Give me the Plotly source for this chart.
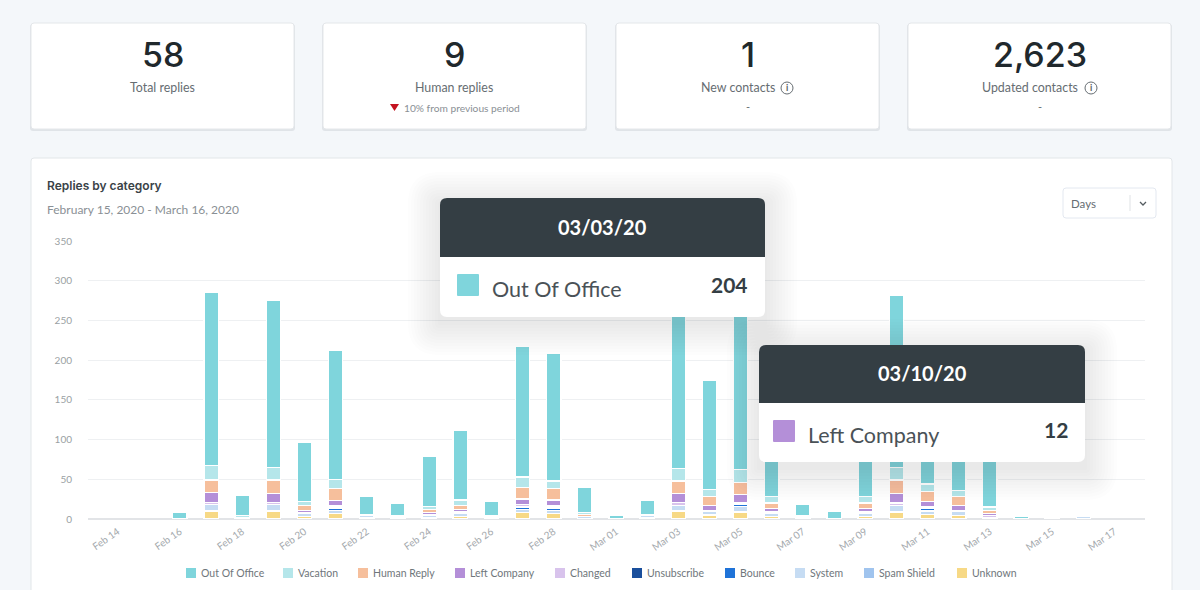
import plotly.graph_objects as go

W = 1200
H = 590

days = ["Feb 14", "Feb 15", "Feb 16", "Feb 17", "Feb 18", "Feb 19", "Feb 20", "Feb 21", "Feb 22", "Feb 23", "Feb 24",
        "Feb 25", "Feb 26", "Feb 27", "Feb 28", "Feb 29", "Mar 01", "Mar 02", "Mar 03", "Mar 04", "Mar 05", "Mar 06",
        "Mar 07", "Mar 08", "Mar 09", "Mar 10", "Mar 11", "Mar 12", "Mar 13", "Mar 14", "Mar 15", "Mar 16", "Mar 17"]
tick_days = days[::2]
y_ticks = [0, 50, 100, 150, 200, 250, 300, 350]

out_of_office = [0, 0, 9, 218, 26, 210, 75, 162, 24, 16, 63, 87, 18, 164, 160, 32, 4, 19, 204, 137, 210, 87, 14, 10, 97, 216, 99, 89, 94, 3, 1, 0, 0]
vacation = [0, 0, 0, 18, 2, 16, 5, 12, 1, 1, 4, 7, 1, 13, 10, 2, 0, 1, 16, 9, 16, 8, 1, 0, 8, 16, 9, 8, 4, 0, 1, 0, 0]
human_reply = [0, 0, 0, 16, 0, 17, 6, 15, 0, 0, 4, 5, 0, 15, 14, 3, 0, 0, 16, 11, 15, 7, 0, 0, 7, 17, 13, 11, 4, 0, 0, 1, 0]
left_company = [0, 0, 0, 12, 0, 11, 3, 6, 0, 0, 3, 3, 0, 7, 7, 0, 0, 0, 11, 6, 11, 4, 0, 0, 4, 12, 6, 6, 3, 0, 0, 0, 0]
changed = [0, 0, 0, 3, 0, 3, 1, 2, 0, 0, 1, 2, 0, 2, 2, 0, 0, 0, 4, 1, 0, 2, 0, 0, 2, 3, 2, 1, 2, 0, 0, 0, 0]
unsubscribe = [0, 0, 0, 0, 0, 0, 0, 1, 0, 0, 0, 0, 0, 1, 1, 0, 0, 0, 0, 0, 1, 0, 0, 0, 0, 0, 1, 0, 0, 0, 0, 0, 0]
bounce = [0, 0, 0, 0, 0, 0, 0, 3, 0, 0, 0, 0, 0, 3, 3, 0, 0, 0, 0, 0, 3, 0, 0, 0, 0, 0, 3, 0, 0, 0, 0, 0, 0]
system = [0, 0, 0, 8, 1, 8, 4, 4, 2, 1, 2, 4, 1, 4, 4, 2, 0, 2, 7, 5, 7, 4, 1, 0, 4, 8, 4, 6, 0, 0, 0, 3, 0]
spam_shield = [0] * 33
unknown = [0, 0, 0, 10, 1, 10, 3, 7, 2, 2, 2, 3, 2, 8, 7, 1, 1, 2, 10, 5, 9, 3, 2, 0, 3, 9, 6, 4, 2, 0, 0, 0, 0]

# bottom of the stack goes first
series = [
    ("Unknown", unknown, "#f7d986"),
    ("Spam Shield", spam_shield, "#a0c4ee"),
    ("System", system, "#c6dcf3"),
    ("Bounce", bounce, "#1f73d8"),
    ("Unsubscribe", unsubscribe, "#1a4f9c"),
    ("Changed", changed, "#d8c3ec"),
    ("Left Company", left_company, "#b48fd8"),
    ("Human Reply", human_reply, "#f6bf9c"),
    ("Vacation", vacation, "#b5e6ea"),
    ("Out Of Office", out_of_office, "#7fd5dc"),
]

stat_cards = [
    (31, 294, "58", "Total replies", "", None),
    (323, 586, "9", "Human replies", "10% from previous period", None),
    (616, 879, "1", "New contacts", "-", 787),
    (908, 1171, "2,623", "Updated contacts", "-", 1091),
]

# left edge of each legend swatch, same order as series
legend_x = {"Out Of Office": 186, "Vacation": 283, "Human Reply": 358, "Left Company": 455, "Changed": 555,
            "Unsubscribe": 632, "Bounce": 725, "System": 795, "Spam Shield": 864, "Unknown": 957}


def px(x):
    return x / W


def py(y):
    return 1 - y / H


def round_rect(x0, y0, x1, y1, r, fill, layer="below", line=None, opacity=1, top_only=False):
    rb = 0 if top_only else r
    X0, X1 = px(x0), px(x1)
    Y0, Y1 = py(y0), py(y1)
    path = (
        f"M {px(x0 + r)} {Y0} L {px(x1 - r)} {Y0} Q {X1} {Y0} {X1} {py(y0 + r)} "
        f"L {X1} {py(y1 - rb)} Q {X1} {Y1} {px(x1 - rb)} {Y1} "
        f"L {px(x0 + rb)} {Y1} Q {X0} {Y1} {X0} {py(y1 - rb)} "
        f"L {X0} {py(y0 + r)} Q {X0} {Y0} {px(x0 + r)} {Y0} Z"
    )
    return dict(type="path", path=path, xref="paper", yref="paper", fillcolor=fill, layer=layer, opacity=opacity,
                line=dict(color=line or fill, width=1 if line else 0))


def text(x, y, s, size, color, anchor="center", font="Lato", bold=False, weight=None):
    f = dict(family=font, size=size, color=color)
    if weight:
        f["weight"] = weight
    # annotations carry 2px of padding on the anchored side
    shift = {"left": -2, "right": 2, "center": 0}[anchor]
    return dict(x=px(x + shift), y=py(y), xref="paper", yref="paper", text=f"<b>{s}</b>" if bold else s,
                showarrow=False, xanchor=anchor, yanchor="middle", font=f)


fig = go.Figure()
for name, values, color in series:
    fig.add_trace(go.Bar(x=days, y=[v or None for v in values], name=name, width=0.46,
                         marker=dict(color=color, line=dict(color="white", width=1.3))))

shapes = []
notes = []

# stat cards along the top
for x0, x1, number, label, sub, icon_x in stat_cards:
    shapes.append(round_rect(x0 - 1, 24, x1 + 1, 131, 3, "#c3c8cc", opacity=0.4))
    shapes.append(round_rect(x0, 23, x1, 129, 3, "white", line="#e4e7ea"))
    mid = (x0 + x1) / 2
    notes.append(text(mid, 54, number, 34, "#20282c", font="Inter", weight=500))
    if icon_x:
        notes.append(text(icon_x - (49 if number == "1" else 61), 88, label, 12.4, "#666d72"))
        shapes.append(dict(type="circle", xref="paper", yref="paper", x0=px(icon_x - 6), x1=px(icon_x + 6),
                           y0=py(94), y1=py(82), line=dict(color="#666d72", width=1), fillcolor="white"))
        notes.append(text(icon_x, 88, "i", 9, "#555c61", bold=True))
        notes.append(text(mid, 106, sub, 11, "#666d72"))
    else:
        notes.append(text(mid, 88, label, 12.4, "#666d72"))
        if sub:
            notes.append(text(mid + 7, 108, sub, 10.2, "#8a9095"))
            shapes.append(dict(type="path", xref="paper", yref="paper", fillcolor="#c4121f", line=dict(width=0),
                               path=f"M {px(390)} {py(104)} L {px(399)} {py(104)} L {px(394.5)} {py(111)} Z"))

# chart panel
shapes.append(round_rect(31, 158, 1172, 600, 3, "white", line="#e2e6e9"))
notes.append(text(47, 185, "Replies by category", 12, "#3a4247", anchor="left", font="Inter", weight=600))
notes.append(text(47, 210, "February 15, 2020 - March 16, 2020", 12, "#8a9095", anchor="left"))

# days dropdown
shapes.append(round_rect(1063, 188, 1156, 218, 3, "white", line="#e3e8f0"))
shapes.append(dict(type="line", xref="paper", yref="paper", x0=px(1130), x1=px(1130), y0=py(195), y1=py(211),
                   line=dict(color="#dfe2e5", width=1)))
shapes.append(dict(type="path", xref="paper", yref="paper", line=dict(color="#555c61", width=1.3),
                   path=f"M {px(1140)} {py(202)} L {px(1143)} {py(205)} L {px(1146)} {py(202)}"))
notes.append(text(1071, 203, "Days", 11.5, "#666d72", anchor="left"))

# legend row under the chart
colors = {name: color for name, _, color in series}
for name, x in legend_x.items():
    shapes.append(round_rect(x, 568, x + 10, 578, 0, colors[name]))
    notes.append(text(x + 15, 573, name, 10.5, "#6f767b", anchor="left"))


def tooltip(x0, x1, y0, y1, head, title, swatch_x, swatch, label, value):
    # soft shadow from stacked translucent boxes
    for grow in range(32, 0, -3):
        shapes.append(round_rect(x0 - grow, y0 - grow + 6, x1 + grow, y1 + grow + 6, grow, "#70787d", layer="above",
                                 opacity=0.012))
    shapes.append(round_rect(x0, y0, x1, y1, 7, "white", layer="above"))
    shapes.append(round_rect(x0, y0, x1, head, 7, "#343e44", layer="above", top_only=True))
    shapes.append(round_rect(swatch_x, head + 17, swatch_x + 22, head + 39, 1, swatch, layer="above"))
    notes.append(text((x0 + x1) / 2, (y0 + head) / 2 - 1, title, 20, "white", bold=True))
    notes.append(text(swatch_x + 35, head + 32, label, 21.5, "#4a5257", anchor="left"))
    notes.append(text(x1 - 17, head + 27, value, 21, "#343e44", anchor="right", bold=True))


tooltip(440, 765, 198, 317, 257, "03/03/20", 457, "#7fd5dc", "Out Of Office", "204")
tooltip(759, 1085, 345, 462, 403, "03/10/20", 773, "#b48fd8", "Left Company", "12")

fig.update_layout(
    width=W,
    height=H,
    margin=dict(l=0, r=0, t=0, b=0, pad=0),
    paper_bgcolor="#f4f7fa",
    plot_bgcolor="rgba(0,0,0,0)",
    barmode="stack",
    showlegend=False,
    shapes=shapes,
    annotations=notes,
    font=dict(family="Lato", color="#8a9095"),
    xaxis=dict(domain=[px(88), px(1145)], type="category", categoryorder="array", categoryarray=days,
               range=[-0.95, 32.98], tickmode="array", tickvals=tick_days, ticktext=tick_days, tickangle=-35,
               tickfont=dict(size=10, color="#a4a9ad"), showgrid=False, showline=False, zeroline=False, ticks="",
               ticklabelstandoff=4, automargin=False),
    yaxis=dict(domain=[py(519), py(241)], range=[0, 350], tickvals=y_ticks, gridcolor="#eef0f2", gridwidth=1,
               zeroline=True, zerolinecolor="#e2e4e7", zerolinewidth=1.5, tickfont=dict(size=10, color="#9a9fa3"),
               ticks="", ticklabelstandoff=15, automargin=False),
)

fig.write_html("out.html", config={"displayModeBar": False}, post_script="document.body.style.margin='0';")
